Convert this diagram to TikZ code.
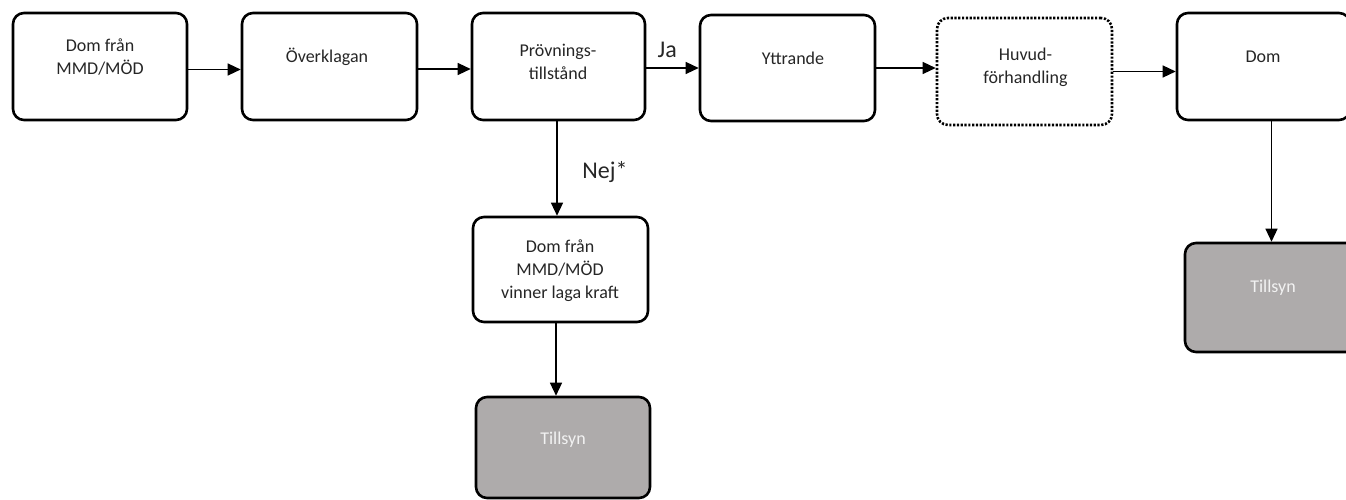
\documentclass[tikz,border=0pt]{standalone}
\usepackage{fontspec}
\setmainfont{Carlito}
\usetikzlibrary{arrows.meta}
\definecolor{boxgray}{HTML}{AEABAB}
\definecolor{txt}{HTML}{262626}
\begin{document}
\begin{tikzpicture}[x=1pt,y=-1pt,
  box/.style={draw=black, line width=2.6pt, rounded corners=11pt, fill=white, inner sep=0pt},
  dotbox/.style={box, dash pattern=on 2.2pt off 1.6pt},
  graybox/.style={box, fill=boxgray},
  lbl/.style={font=\fontsize{18}{23}\selectfont, text=txt, align=center, inner sep=0pt},
  wlbl/.style={lbl, text=white!95!black},
  big/.style={font=\fontsize{24}{28}\selectfont, text=txt, inner sep=0pt},
  arr/.style={line width=1.3pt, -{Triangle[length=13pt,width=12pt]}}
]
\useasboundingbox (0,0) rectangle (1346,500);
% boxes
\node[box, minimum width=174pt, minimum height=107pt] (B1) at (100,66.5) {};
\node[box, minimum width=175pt, minimum height=107pt] (B2) at (329.5,66.5) {};
\node[box, minimum width=173pt, minimum height=107pt] (B3) at (558.5,66.5) {};
\node[box, minimum width=175pt, minimum height=106pt] (B4) at (787.5,68) {};
\node[dotbox, minimum width=175pt, minimum height=107pt] (B5) at (1024.5,71.5) {};
\node[box, minimum width=173pt, minimum height=107pt] (B6) at (1263.5,66.5) {};
\node[box, minimum width=175pt, minimum height=105pt] (B7) at (560.5,269.5) {};
\node[graybox, minimum width=174pt, minimum height=101pt] (B8) at (563,447.5) {};
\node[graybox, minimum width=173pt, minimum height=109pt] (B9) at (1271.5,297.5) {};
% texts
\node[lbl] (T1) at (100,57) {Dom från\\MMD/MÖD};
\node[lbl] (T2) at (327,57) {Överklagan};
\node[lbl] (T3) at (558,62) {Prövnings-\\tillstånd};
\node[lbl] (T4) at (793,58) {Yttrande};
\node[lbl] (T5) at (1025.5,67) {Huvud-\\förhandling};
\node[lbl] (T6) at (1263,57) {Dom};
\node[lbl] (T7) at (560,271) {Dom från\\MMD/MÖD\\vinner laga kraft};
\node[wlbl] (T8) at (563,440) {Tillsyn};
\node[wlbl] (T9) at (1273,288) {Tillsyn};
% connectors
\draw[arr] ([yshift=-3pt]B1.east) -- ([yshift=-3pt]B2.west);
\draw[arr] ([yshift=-2.5pt]B2.east) -- ([yshift=-2.5pt]B3.west);
\draw[arr] (B3.east |- B4.west) -- node[big, above=10pt, pos=0.4] (Ja) {Ja} (B4.west);
\draw[arr] (B4.east) -- (B5.west |- B4.east);
\draw[arr] (B5.east) -- (B6.west |- B5.east);
\draw[arr] ([xshift=-1.5pt]B3.south) -- ([xshift=-1.5pt]B3.south |- B7.north);
\node[big] (Nej) at (605,172) {Nej*};
\draw[arr] ([xshift=-4.5pt]B7.south) -- ([xshift=-4.5pt]B7.south |- B8.north);
\draw[arr] (B9.north |- B6.south) -- (B9.north);
\end{tikzpicture}
\end{document}
